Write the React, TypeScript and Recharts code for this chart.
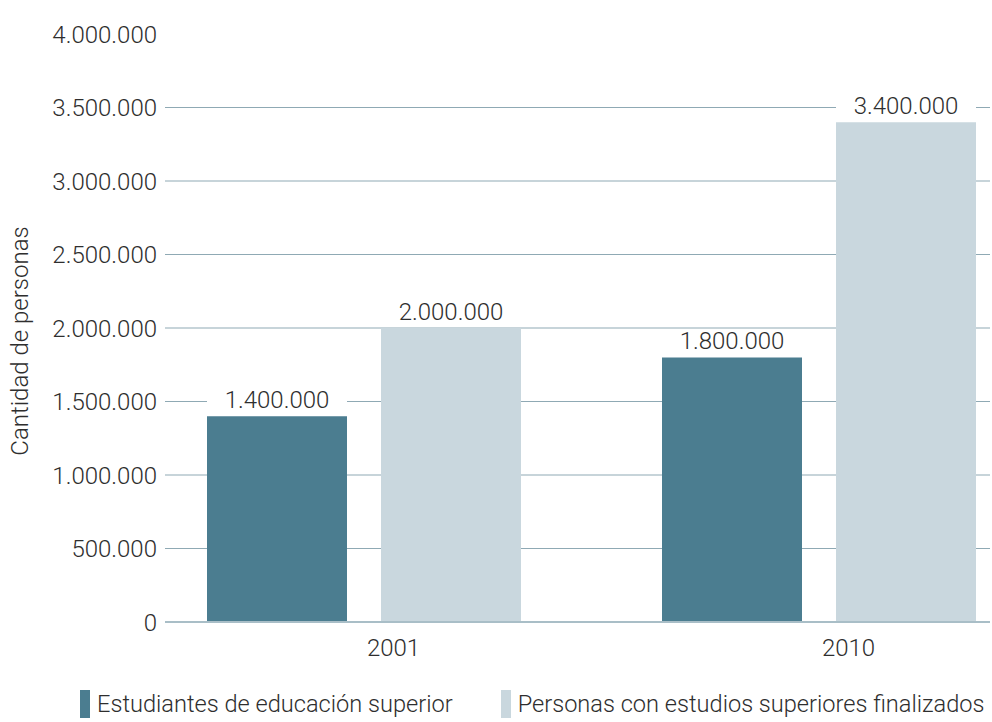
import React from "react";
import {
  BarChart,
  Bar,
  XAxis,
  YAxis,
  CartesianGrid,
  LabelList,
} from "recharts";

const years = ["2001", "2010"];
const estudiantes = [1400000, 1800000];
const finalizados = [2000000, 3400000];
const yTicks = [0, 500000, 1000000, 1500000, 2000000, 2500000, 3000000, 3500000, 4000000];

const seriesNames = [
  "Estudiantes de educación superior",
  "Personas con estudios superiores finalizados",
];
const colors = ["#4b7d90", "#c9d7de"];

const data = years.map((y, i) => ({
  year: y,
  estudiantes: estudiantes[i],
  finalizados: finalizados[i],
}));

const FONT = "Roboto, 'Noto Sans', sans-serif";
const TEXT = "#2e2e2e";
const GRID = "#8fa9b4";
const TOP = 34;
const FS = 24;

const fmt = (v: number) => String(v).replace(/\B(?=(\d{3})+(?!\d))/g, ".");

const GridLine = (props: any) => {
  if (props.y1 <= TOP + 1) return null;
  return (
    <line
      key={props.key}
      x1={props.x1}
      x2={props.x2}
      y1={props.y1}
      y2={props.y2}
      stroke={GRID}
      strokeWidth={1}
    />
  );
};

const ValueLabel = (props: any) => {
  const { x, y, width, value } = props;
  const cx = x + width / 2;
  return (
    <g>
      <rect x={x} y={y - 28} width={width} height={26} fill="#fff" />
      <text
        x={cx}
        y={y - 8}
        textAnchor="middle"
        fontFamily={FONT}
        fontWeight={300}
        fontSize={FS}
        fill={TEXT}
      >
        {fmt(value)}
      </text>
    </g>
  );
};

const AxisTitle = (props: any) => {
  const vb = props.viewBox;
  const cx = 20;
  const cy = vb.y + vb.height / 2 + 13;
  return (
    <text
      x={cx}
      y={cy}
      transform={`rotate(-90 ${cx} ${cy})`}
      textAnchor="middle"
      dominantBaseline="central"
      fontFamily={FONT}
      fontWeight={300}
      fontSize={FS}
      fill={TEXT}
    >
      Cantidad de personas
    </text>
  );
};

export default function App() {
  return (
    <div
      style={{
        position: "absolute",
        left: 0,
        top: 0,
        width: 992,
        height: 722,
        background: "#fff",
        overflow: "hidden",
        fontFamily: FONT,
      }}
    >
      <BarChart
        width={992}
        height={722}
        data={data}
        margin={{ top: TOP, right: 2, left: 0, bottom: 60 }}
        barGap={34}
        barSize={140}
      >
        <CartesianGrid vertical={false} horizontal={GridLine} />
        <XAxis
          dataKey="year"
          padding={{ left: -29, right: -56 }}
          height={40}
          tickLine={false}
          axisLine={{ stroke: "#a9bec7", strokeWidth: 2 }}
          tickMargin={11}
          tick={{ fontFamily: FONT, fontWeight: 300, fontSize: FS, fill: TEXT, dx: 30 }}
        />
        <YAxis
          width={165}
          domain={[0, 4000000]}
          ticks={yTicks}
          interval={0}
          tickFormatter={fmt}
          axisLine={false}
          tickLine={false}
          tick={{ fontFamily: FONT, fontWeight: 300, fontSize: FS, fill: TEXT }}
          label={<AxisTitle />}
        />
        <Bar dataKey="estudiantes" name={seriesNames[0]} fill={colors[0]} isAnimationActive={false}>
          <LabelList dataKey="estudiantes" content={<ValueLabel />} />
        </Bar>
        <Bar dataKey="finalizados" name={seriesNames[1]} fill={colors[1]} isAnimationActive={false}>
          <LabelList dataKey="finalizados" content={<ValueLabel />} />
        </Bar>
      </BarChart>
      <div
        style={{
          position: "absolute",
          left: 80,
          top: 690,
          display: "flex",
          gap: 48,
          fontWeight: 300,
          fontSize: 23.6,
          color: TEXT,
          whiteSpace: "nowrap",
        }}
      >
        {seriesNames.map((n, i) => (
          <div key={n} style={{ display: "flex", alignItems: "flex-end" }}>
            <span
              style={{
                display: "inline-block",
                width: 10,
                height: 28,
                background: colors[i],
                marginRight: 7,
              }}
            />
            <span style={{ lineHeight: "28px" }}>{n}</span>
          </div>
        ))}
      </div>
    </div>
  );
}
